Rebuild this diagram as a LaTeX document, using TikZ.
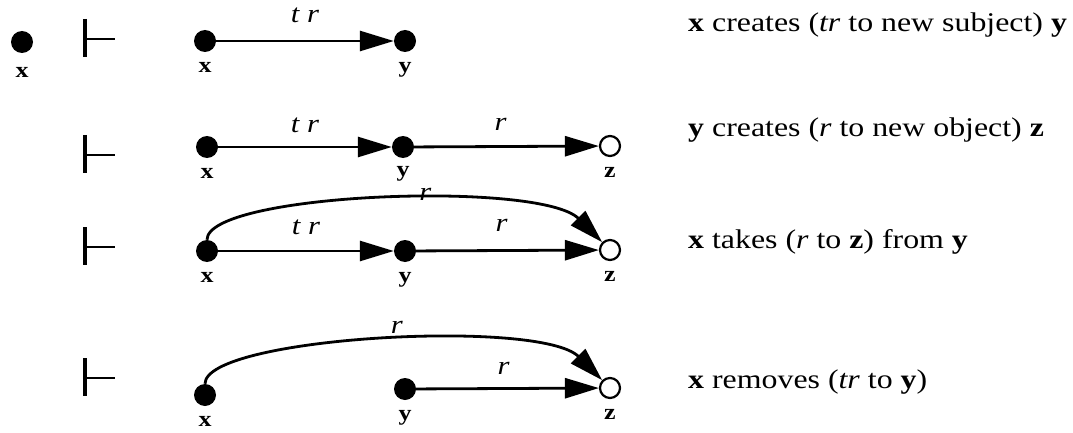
\documentclass[tikz,border=0pt]{standalone}
\usepackage{fontspec}
\setmainfont[FakeStretch=1.18]{Liberation Serif}
\usetikzlibrary{arrows.meta}

\tikzset{
  dot/.style={circle, fill=black, minimum size=22pt, inner sep=0pt},
  hollow/.style={circle, draw=black, line width=2.2pt, fill=white, minimum size=20pt, inner sep=0pt},
  vname/.style={font=\fontsize{22}{25}\selectfont\bfseries, inner sep=0pt},
  elabel/.style={font=\fontsize{26}{29}\selectfont\itshape, inner sep=0pt},
  ruletext/.style={font=\fontsize{27}{31}\selectfont, anchor=base west, inner sep=0pt},
  grant/.style={line width=2.8pt, -{Triangle[length=34pt, width=20pt]}},
  label distance=10pt
}

\begin{document}
\begin{tikzpicture}[x=1pt, y=-1pt]
	\useasboundingbox (0,0) rectangle (1073,433);

	% Start state and the four derivation steps
	\node[dot, label={[vname, label distance=14pt]below:x}] (x0) at (22,42) {};
	\foreach \ty in {38,154,246,377} {
		\draw[line width=4pt] (85,\ty-19) -- (85,\ty+19);
		\draw[line width=2.8pt] (85,\ty+1) -- (115,\ty+1);
	}

	% Row 1: x creates y
	\node[dot, label={[vname]below:x}] (x1) at (205,41) {};
	\node[dot, label={[vname]below:y}] (y1) at (405,41) {};
	\draw[grant] (x1) -- node[elabel, above=17pt] {t r} (y1);
	\node[ruletext] (t1) at (688,32) {\textbf{x} creates (\textit{tr} to new subject) \textbf{y}};

	% Row 2: y creates z
	\node[dot, label={[vname]below:x}] (x2) at (207,147) {};
	\node[dot, label={[vname, label distance=8pt]below:y}] (y2) at (403,147) {};
	\node[hollow, label={[vname]below:z}] (z2) at (610,146) {};
	\draw[grant] (x2) -- node[elabel, above=13pt] {t r} (y2);
	\draw[grant] (y2) -- node[elabel, above=15pt, xshift=-6pt] {r} (z2);
	\node[ruletext] (t2) at (688,137) {\textbf{y} creates (\textit{r} to new object) \textbf{z}};

	% Row 3: x takes r to z
	\node[dot, label={[vname]below:x}] (x3) at (207,251) {};
	\node[dot, label={[vname]below:y}] (y3) at (405,251) {};
	\node[hollow, label={[vname]below:z}] (z3) at (610,250) {};
	\draw[grant] (x3) -- node[elabel, above=15pt] {t r} (y3);
	\draw[grant] (y3) -- node[elabel, above=18pt, xshift=-6pt] {r} (z3);
	\draw[grant] (x3.north) .. controls +(0,-47) and +(-62,-62) .. node[elabel, pos=0.58, above=-1pt] {r} (z3.north west);
	\node[ruletext] (t3) at (688,248) {\textbf{x} takes (\textit{r} to \textbf{z}) from \textbf{y}};

	% Row 4: x removes tr to y
	\node[dot, label={[vname]below:x}] (x4) at (205,395) {};
	\node[dot, label={[vname]below:y}] (y4) at (405,389) {};
	\node[hollow, label={[vname]below:z}] (z4) at (610,388) {};
	\draw[grant] (y4) -- node[elabel, above=13pt, xshift=-4pt] {r} (z4);
	\draw[grant] (x4.north) .. controls +(0,-47) and +(-62,-62) .. node[elabel, pos=0.53, above=6pt] {r} (z4.north west);
	\node[ruletext] (t4) at (688,388) {\textbf{x} removes (\textit{tr} to \textbf{y})};
\end{tikzpicture}
\end{document}
